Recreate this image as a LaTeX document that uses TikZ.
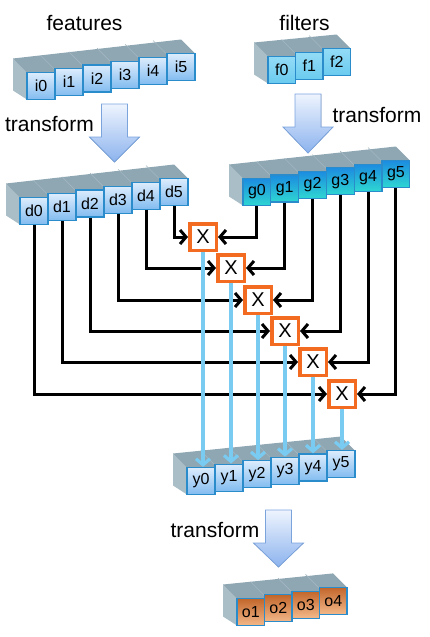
\documentclass[tikz,border=0pt]{standalone}
\usepackage{fontspec}
\setmainfont{Liberation Sans}
\usetikzlibrary{arrows.meta}
\definecolor{topface}{HTML}{8FA7B3}
\definecolor{sideface}{HTML}{AABEC7}
\definecolor{topline}{HTML}{A2B7C1}
\definecolor{cellborder}{HTML}{2A8CCB}
\definecolor{lbtop}{HTML}{DCECFC}
\definecolor{lbbot}{HTML}{82BCF0}
\definecolor{ftop}{HTML}{93DBF6}
\definecolor{fbot}{HTML}{6ACBEF}
\definecolor{gtop}{HTML}{1C8CE0}
\definecolor{gbot}{HTML}{2ED6D2}
\definecolor{otop}{HTML}{C2662B}
\definecolor{obot}{HTML}{F3B889}
\definecolor{xorange}{HTML}{F36B21}
\definecolor{skyline}{HTML}{7ACBF1}
\definecolor{bigtop}{HTML}{EEF4FE}
\definecolor{bigbot}{HTML}{8CB3EE}
\definecolor{bigborder}{HTML}{7BA3DC}

\def\fdx{-14}\def\fdy{-14}\def\fdb{-9}

% #1 prefix, #2 n, #3 x0, #4 c0, #5 w, #6 step, #7 top colour, #8 bottom colour, #9 first index
\newcommand{\drawarray}[9]{%
  \pgfmathtruncatemacro{\arrlast}{#2-1}%
  \fill[topface] (#3,{#4-13.5+#6}) -- ({#3+#2*#5},{#4-13.5-(#2-1)*#6})
    -- ({#3+#2*#5+\fdx},{#4-13.5-(#2-1)*#6+\fdy}) -- ({#3+\fdx},{#4-13.5+\fdy}) -- cycle;
  \foreach \k in {1,...,\arrlast}
    \draw[topline, line width=0.6pt] ({#3+\k*#5},{#4-13.5-\k*#6+1}) -- ({#3+\k*#5+\fdx},{#4-13.5-\k*#6+\fdy+1});
  \fill[sideface] (#3,{#4-13.5}) -- (#3,{#4+13.5}) -- ({#3+\fdx},{#4+13.5+\fdb}) -- ({#3+\fdx},{#4-13.5+\fdy}) -- cycle;
  \foreach \k [count=\lab from #9] in {0,...,\arrlast}
    \node[cell, minimum width=#5pt, top color=#7, bottom color=#8] (#1\lab) at ({#3+(\k+0.5)*#5},{#4-\k*#6}) {#1\lab};
}

% #1 centre x, #2 top, #3 head start, #4 tip
\newcommand{\bigarrow}[4]{%
  \filldraw[draw=bigborder, line width=0.8pt, top color=bigtop, bottom color=bigbot]
    ({#1-13},#2) -- ({#1+13},#2) -- ({#1+13},#3) -- ({#1+25},#3) -- (#1,#4)
    -- ({#1-25},#3) -- ({#1-13},#3) -- cycle;
}

\tikzset{
  cell/.style={draw=cellborder, line width=1.2pt, minimum height=27pt, inner sep=0pt,
    font=\fontsize{16}{16}\selectfont, text=black},
  lbl/.style={font=\fontsize{21}{21}\selectfont, inner sep=0pt},
  xbox/.style={draw=xorange, line width=3.5pt, fill=white, minimum size=26.5pt, inner sep=0pt,
    font=\fontsize{20}{20}\selectfont},
  conn/.style={draw=black, line width=3pt, -{Straight Barb[length=6pt,width=14pt]}},
  skyconn/.style={draw=skyline, line width=3.2pt, -{Straight Barb[length=6pt,width=14pt]}}
}

\begin{document}
\begin{tikzpicture}[x=1pt,y=-1pt]
\path[use as bounding box] (0,0) rectangle (429,637);

% labels
\node[lbl, anchor=base] (featlbl) at (84.5,30) {features};
\node[lbl, anchor=base] (filtlbl) at (304.5,30) {filters};

% input arrays
\drawarray{i}{6}{27}{86}{28}{3.8}{lbtop}{lbbot}{0}
\drawarray{f}{3}{268}{70}{27.5}{4}{ftop}{fbot}{0}

% transform arrows
\bigarrow{114.5}{104}{137}{162}
\node[lbl, anchor=base] (tr1) at (49.5,131) {transform};
\bigarrow{308}{94}{127}{153}
\node[lbl, anchor=base] (tr2) at (377,122) {transform};

% transformed arrays
\drawarray{d}{6}{20}{211}{28}{3.8}{lbtop}{lbbot}{0}
\drawarray{g}{6}{243}{192}{27.8}{3.6}{gtop}{gbot}{0}

% multiply boxes
\node[xbox] (x1) at (203,237) {X};
\node[xbox] (x2) at (231,268) {X};
\node[xbox] (x3) at (258,300) {X};
\node[xbox] (x4) at (285,331) {X};
\node[xbox] (x5) at (313,362) {X};
\node[xbox] (x6) at (342,394) {X};

\foreach \i/\j in {1/5,2/4,3/3,4/2,5/1,6/0}
  \draw[conn] (d\j.south) |- (x\i.west);
\foreach \i/\j in {1/0,2/1,3/2,4/3,5/4,6/5}
  \draw[conn] (g\j.south) |- (x\i.east);

% output array
\drawarray{y}{6}{187}{481}{28}{3.4}{lbtop}{lbbot}{0}
\foreach \i/\j in {1/0,2/1,3/2,4/3,5/4,6/5}
  \draw[skyconn] (x\i.south) -- (x\i.south |- y\j.north);

\bigarrow{278.5}{510}{543}{567}
\node[lbl, anchor=base] (tr3) at (215,537) {transform};

\drawarray{o}{4}{237}{612}{27.5}{3.7}{otop}{obot}{1}
\end{tikzpicture}
\end{document}
